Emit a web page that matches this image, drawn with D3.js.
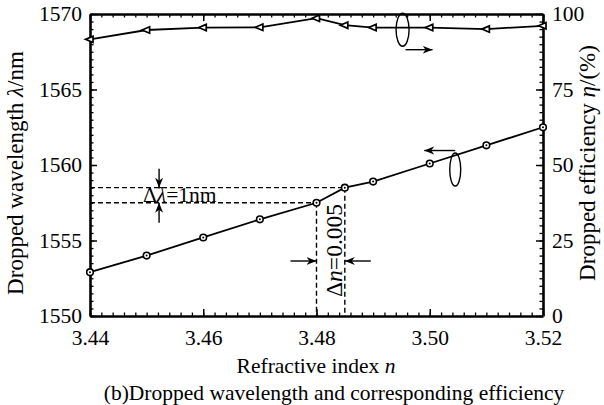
<!DOCTYPE html>
<html>
<head>
<meta charset="utf-8">
<script src="https://cdn.jsdelivr.net/npm/d3@7"></script>
<style>
  body { margin: 0; background: #fff; }
  svg { display: block; }
  text { font-family: "Liberation Serif", serif; fill: #000; }
  .axis path, .axis line { stroke: #000; }
  .axis text { font-size: 21.5px; }
</style>
</head>
<body>
<svg width="604" height="405"></svg>
<script>
// refractive index values where the wavelength was sampled
const nWave = [3.44, 3.45, 3.46, 3.47, 3.48, 3.485, 3.49, 3.50, 3.51, 3.52];
const wavelength = [1552.9, 1554.0, 1555.2, 1556.4, 1557.5, 1558.5, 1558.9, 1560.1, 1561.3, 1562.5];

// efficiency series
const nEff = [3.44, 3.45, 3.46, 3.47, 3.48, 3.485, 3.49, 3.50, 3.51, 3.52];
const efficiency = [91.6, 94.7, 95.5, 95.6, 98.6, 96.3, 95.5, 95.5, 95.0, 96.1];

const xTicks = [3.44, 3.46, 3.48, 3.50, 3.52];
const yLeftTicks = [1550, 1555, 1560, 1565, 1570];
const yRightTicks = [0, 25, 50, 75, 100];

const svg = d3.select("svg");
const pl = 90, pr = 543, pt = 14, pb = 316;
const serif = "Liberation Serif";

const x = d3.scaleLinear().domain([3.44, 3.52]).range([pl, pr]);
const yL = d3.scaleLinear().domain([1550, 1570]).range([pb, pt]);
const yR = d3.scaleLinear().domain([0, 100]).range([pb, pt]);

const xMinor = d3.range(0, 41).map(i => 3.44 + i * 0.002);
const yLMinor = d3.range(0, 41).map(i => 1550 + i * 0.5);
const yRMinor = d3.range(0, 41).map(i => i * 2.5);

// minor ticks first
const minor = (axis, tr) => svg.append("g").attr("class", "axis").attr("transform", tr)
    .call(axis.tickSize(-3.5).tickSizeOuter(0).tickFormat(""))
    .call(g => g.select(".domain").remove())
    .call(g => g.selectAll("line").attr("stroke-width", 1.3));

minor(d3.axisBottom(x).tickValues(xMinor), `translate(0,${pb})`);
minor(d3.axisTop(x).tickValues(xMinor), `translate(0,${pt})`);
minor(d3.axisLeft(yL).tickValues(yLMinor), `translate(${pl},0)`);
minor(d3.axisRight(yR).tickValues(yRMinor), `translate(${pr},0)`);

const major = (axis, tr, pad, labels) => svg.append("g").attr("class", "axis").attr("transform", tr)
    .attr("font-family", serif)
    .call(axis.tickSize(-7).tickSizeOuter(0).tickPadding(pad))
    .call(g => g.select(".domain").attr("stroke-width", 2.6))
    .call(g => g.selectAll("line").attr("stroke-width", 1.5))
    .call(g => { if (!labels) g.selectAll("text").remove(); });

major(d3.axisBottom(x).tickValues(xTicks).tickFormat(d3.format(".2f")), `translate(0,${pb})`, 14, true);
major(d3.axisTop(x).tickValues(xTicks), `translate(0,${pt})`, 0, false);
major(d3.axisLeft(yL).tickValues(yLeftTicks).tickFormat(d3.format("d")), `translate(${pl},0)`, 8, true);
major(d3.axisRight(yR).tickValues(yRightTicks).tickFormat(d3.format("d")), `translate(${pr},0)`, 9, true);

// axis titles
const label = (tr, size, html) => svg.append("text").attr("transform", tr)
  .attr("text-anchor", "middle").attr("font-family", serif).attr("font-size", size).html(html);
label("translate(316,373)", 21.5, 'Refractive index <tspan font-style="italic">n</tspan>');
label("translate(334,400)", 21.5, "(b)Dropped wavelength and corresponding efficiency");
label("translate(23,173) rotate(-90)", 23, 'Dropped wavelength <tspan font-style="italic">λ</tspan>/nm');
label("translate(595,163) rotate(-90)", 23, 'Dropped efficiency <tspan font-style="italic">η</tspan>/(%)');

// arrow marker
const defs = svg.append("defs");
defs.append("marker").attr("id", "ah").attr("viewBox", "0 0 10 10")
  .attr("refX", 10).attr("refY", 5).attr("markerWidth", 10).attr("markerHeight", 10)
  .attr("markerUnits", "userSpaceOnUse").attr("orient", "auto")
  .append("path").attr("d", "M0,1 L10,5 L0,9 L3,5 Z").attr("fill", "#000");

// dashed guide lines
const dash = svg.append("g").attr("stroke", "#000").attr("stroke-width", 1.4)
  .attr("stroke-dasharray", "5,3").attr("fill", "none");
const p1 = [nWave[4], wavelength[4]], p2 = [nWave[5], wavelength[5]];
dash.append("line").attr("x1", pl).attr("x2", x(p2[0])).attr("y1", yL(p2[1])).attr("y2", yL(p2[1]));
dash.append("line").attr("x1", pl).attr("x2", x(p1[0])).attr("y1", yL(p1[1])).attr("y2", yL(p1[1]));
dash.append("line").attr("x1", x(p1[0])).attr("x2", x(p1[0])).attr("y1", yL(p1[1])).attr("y2", pb);
dash.append("line").attr("x1", x(p2[0])).attr("x2", x(p2[0])).attr("y1", yL(p2[1])).attr("y2", pb);

// annotation arrows
const ann = svg.append("g").attr("stroke", "#000").attr("stroke-width", 1.4).attr("marker-end", "url(#ah)");
const ax = x(3.4522);
ann.append("line").attr("x1", ax).attr("x2", ax).attr("y1", yL(p2[1]) - 19).attr("y2", yL(p2[1]));
ann.append("line").attr("x1", ax).attr("x2", ax).attr("y1", yL(p1[1]) + 20).attr("y2", yL(p1[1]));
const ay = 261;
ann.append("line").attr("x1", x(p1[0]) - 26).attr("x2", x(p1[0])).attr("y1", ay).attr("y2", ay);
ann.append("line").attr("x1", x(p2[0]) + 26).attr("x2", x(p2[0])).attr("y1", ay).attr("y2", ay);

svg.append("text").attr("x", 143).attr("y", 202).attr("font-family", serif).attr("font-size", 21.5)
  .html('Δ<tspan font-style="italic">λ</tspan>=1nm');
svg.append("text").attr("transform", "translate(342,297) rotate(-90)").attr("font-family", serif).attr("font-size", 23.5)
  .html('Δ<tspan font-style="italic">n</tspan>=0.005');

// series lines
const lineW = d3.line().x((d, i) => x(nWave[i])).y(d => yL(d));
const lineE = d3.line().x((d, i) => x(nEff[i])).y(d => yR(d));
svg.append("path").datum(wavelength).attr("d", lineW).attr("fill", "none").attr("stroke", "#000").attr("stroke-width", 1.8);
svg.append("path").datum(efficiency).attr("d", lineE).attr("fill", "none").attr("stroke", "#000").attr("stroke-width", 1.8);

// circle markers
const cm = svg.append("g").selectAll("g").data(wavelength).join("g")
  .attr("transform", (d, i) => `translate(${x(nWave[i])},${yL(d)})`);
cm.append("circle").attr("r", 3.3).attr("fill", "#fff").attr("stroke", "#000").attr("stroke-width", 1.6);
cm.append("circle").attr("r", 1).attr("fill", "#000");

// triangle markers (pointing left)
svg.append("g").selectAll("path").data(efficiency).join("path")
  .attr("transform", (d, i) => `translate(${x(nEff[i])},${yR(d)})`)
  .attr("d", "M-4.5,0 L3,-3.2 L3,3.2 Z")
  .attr("fill", "#fff").attr("stroke", "#000").attr("stroke-width", 1.7);

// series indicators: ellipse + arrow
const ind = svg.append("g").attr("stroke", "#000").attr("stroke-width", 1.4).attr("fill", "none");
const e1x = x(3.4952), e1y = yR(94.8);
ind.append("ellipse").attr("cx", e1x).attr("cy", e1y).attr("rx", 6.5).attr("ry", 16.5);
ind.append("line").attr("x1", e1x + 3).attr("x2", e1x + 30).attr("y1", e1y + 20).attr("y2", e1y + 20).attr("marker-end", "url(#ah)");
const e2x = x(3.5045), e2y = yL(1559.7);
ind.append("ellipse").attr("cx", e2x).attr("cy", e2y).attr("rx", 5.5).attr("ry", 16.5);
ind.append("line").attr("x1", e2x).attr("x2", e2x - 31).attr("y1", e2y - 19).attr("y2", e2y - 19).attr("marker-end", "url(#ah)");
</script>
</body>
</html>
